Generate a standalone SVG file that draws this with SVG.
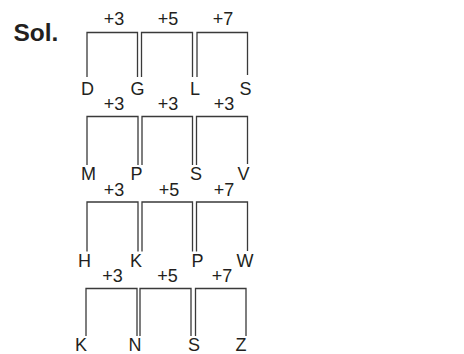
<svg xmlns="http://www.w3.org/2000/svg" width="464" height="354" viewBox="0 0 464 354">
<style>
.n{font-family:"Liberation Sans",Arial,sans-serif;font-size:18px;fill:#231f20;text-anchor:middle}
.l{font-family:"Liberation Sans",Arial,sans-serif;font-size:18px;fill:#231f20;text-anchor:middle}
.t{font-family:"Liberation Sans",Arial,sans-serif;font-size:24.5px;font-weight:bold;fill:#231f20}
.b{fill:none;stroke:#3a3a3a;stroke-width:1.3}
</style>
<rect width="464" height="354" fill="#ffffff"/>
<g id="title"><text class="t" x="13.5" y="40.5">Sol.</text></g>
<g id="connectors">
<path class="b" d="M87 77V32.5H137.5V77"/>
<path class="b" d="M141.5 77V32.5H192.5V77"/>
<path class="b" d="M197 77V32.5H247.5V75"/>
<path class="b" d="M87 165V116.5H138V165"/>
<path class="b" d="M142 165V116.5H192.5V165"/>
<path class="b" d="M196.5 165V116.5H247.5V164"/>
<path class="b" d="M87 251.5V202H138V251.5"/>
<path class="b" d="M142 251.5V202H192.5V251.5"/>
<path class="b" d="M196.5 251.5V202H247.5V251"/>
<path class="b" d="M86 336V288.5H137V336"/>
<path class="b" d="M140 336V288.5H191V336"/>
<path class="b" d="M195.5 336V288.5H246V336"/>
</g>
<g id="labels">
<text class="l" x="114" y="25">+3</text>
<text class="l" x="168" y="25">+5</text>
<text class="l" x="223" y="25">+7</text>
<text class="l" x="114" y="110">+3</text>
<text class="l" x="168" y="110">+3</text>
<text class="l" x="224" y="110">+3</text>
<text class="l" x="114" y="195.5">+3</text>
<text class="l" x="169" y="195.5">+5</text>
<text class="l" x="224" y="195.5">+7</text>
<text class="l" x="112.5" y="281.5">+3</text>
<text class="l" x="167.5" y="281.5">+5</text>
<text class="l" x="222" y="281.5">+7</text>
</g>
<g id="r1-D"><text class="n" x="87.5" y="95">D</text></g>
<g id="r1-G"><text class="n" x="137.5" y="95">G</text></g>
<g id="r1-L"><text class="n" x="195" y="95">L</text></g>
<g id="r1-S"><text class="n" x="245.5" y="95">S</text></g>
<g id="r2-M"><text class="n" x="88.5" y="180">M</text></g>
<g id="r2-P"><text class="n" x="136.5" y="180">P</text></g>
<g id="r2-S"><text class="n" x="196" y="180">S</text></g>
<g id="r2-V"><text class="n" x="243.5" y="180">V</text></g>
<g id="r3-H"><text class="n" x="84.5" y="267">H</text></g>
<g id="r3-K"><text class="n" x="136" y="267">K</text></g>
<g id="r3-P"><text class="n" x="197.5" y="267">P</text></g>
<g id="r3-W"><text class="n" x="245" y="267">W</text></g>
<g id="r4-K"><text class="n" x="81" y="351">K</text></g>
<g id="r4-N"><text class="n" x="135" y="351">N</text></g>
<g id="r4-S"><text class="n" x="194" y="351">S</text></g>
<g id="r4-Z"><text class="n" x="241" y="351">Z</text></g>
</svg>
